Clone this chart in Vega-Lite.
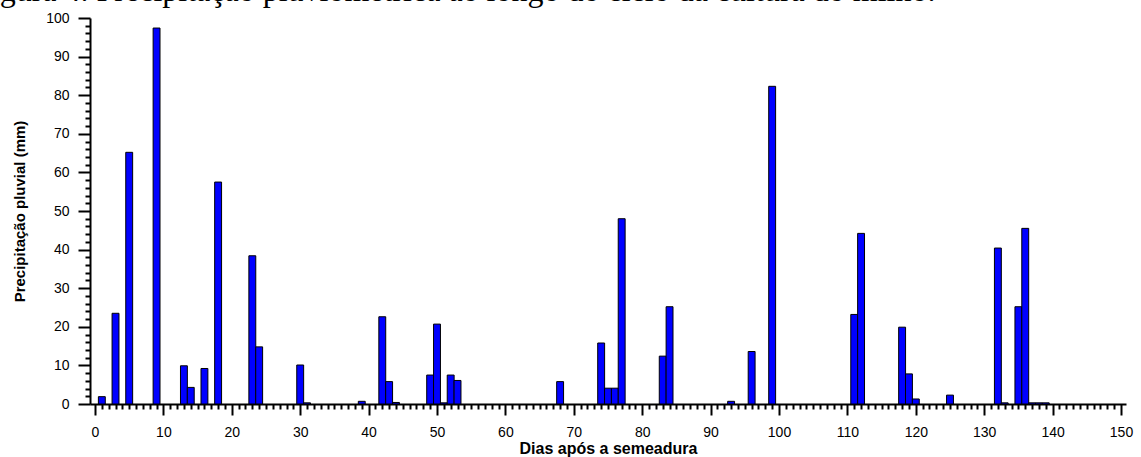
{
  "$schema": "https://vega.github.io/schema/vega-lite/v6.json",
  "width": 1036,
  "height": 386,
  "autosize": {"type": "none"},
  "padding": {"left": 90, "top": 18, "right": 15, "bottom": 53},
  "background": "white",
  "title": {
    "text": "Figura 4. Precipitação pluviométrica ao longo do ciclo da cultura do milho.",
    "anchor": "start",
    "frame": "group",
    "font": "Liberation Serif",
    "fontSize": 32,
    "fontWeight": "normal",
    "color": "black",
    "baseline": "alphabetic",
    "offset": 0,
    "dx": -117,
    "dy": 22
  },
  "data": {
    "values": [
      {"dia": 1, "precip": 1.9},
      {"dia": 3, "precip": 23.5},
      {"dia": 5, "precip": 65.2},
      {"dia": 9, "precip": 97.4},
      {"dia": 13, "precip": 9.9},
      {"dia": 14, "precip": 4.3},
      {"dia": 16, "precip": 9.2},
      {"dia": 18, "precip": 57.5},
      {"dia": 23, "precip": 38.4},
      {"dia": 24, "precip": 14.8},
      {"dia": 30, "precip": 10.1},
      {"dia": 31, "precip": 0.3},
      {"dia": 39, "precip": 0.7},
      {"dia": 42, "precip": 22.6},
      {"dia": 43, "precip": 5.8},
      {"dia": 44, "precip": 0.4},
      {"dia": 49, "precip": 7.5},
      {"dia": 50, "precip": 20.7},
      {"dia": 51, "precip": 0.3},
      {"dia": 52, "precip": 7.5},
      {"dia": 53, "precip": 6.1},
      {"dia": 68, "precip": 5.8},
      {"dia": 74, "precip": 15.8},
      {"dia": 75, "precip": 4.1},
      {"dia": 76, "precip": 4.1},
      {"dia": 77, "precip": 48.0},
      {"dia": 83, "precip": 12.4},
      {"dia": 84, "precip": 25.2},
      {"dia": 93, "precip": 0.7},
      {"dia": 96, "precip": 13.6},
      {"dia": 99, "precip": 82.3},
      {"dia": 111, "precip": 23.2},
      {"dia": 112, "precip": 44.2},
      {"dia": 118, "precip": 19.9},
      {"dia": 119, "precip": 7.8},
      {"dia": 120, "precip": 1.3},
      {"dia": 125, "precip": 2.3},
      {"dia": 132, "precip": 40.4},
      {"dia": 133, "precip": 0.3},
      {"dia": 135, "precip": 25.2},
      {"dia": 136, "precip": 45.5},
      {"dia": 137, "precip": 0.3},
      {"dia": 138, "precip": 0.3},
      {"dia": 139, "precip": 0.3}
    ]
  },
  "mark": {"type": "bar", "width": 6.9, "fill": "#0000ff", "stroke": "black", "strokeWidth": 1},
  "encoding": {
    "x": {
      "field": "dia",
      "type": "quantitative",
      "scale": {"domain": [0, 150], "nice": false, "zero": false},
      "axis": {
        "values": [0,1,2,3,4,5,6,7,8,9,10,11,12,13,14,15,16,17,18,19,20,21,22,23,24,25,26,27,28,29,30,31,32,33,34,35,36,37,38,39,40,41,42,43,44,45,46,47,48,49,50,51,52,53,54,55,56,57,58,59,60,61,62,63,64,65,66,67,68,69,70,71,72,73,74,75,76,77,78,79,80,81,82,83,84,85,86,87,88,89,90,91,92,93,94,95,96,97,98,99,100,101,102,103,104,105,106,107,108,109,110,111,112,113,114,115,116,117,118,119,120,121,122,123,124,125,126,127,128,129,130,131,132,133,134,135,136,137,138,139,140,141,142,143,144,145,146,147,148,149,150],
        "labelExpr": "datum.value % 10 === 0 ? datum.label : ''",
        "tickSize": {"condition": {"test": "datum.value % 10 === 0", "value": 11}, "value": 5},
        "tickWidth": 2,
        "tickColor": "black",
        "domainWidth": 2,
        "domainColor": "black",
        "labelFont": "Liberation Sans",
        "labelFontSize": 14,
        "labelColor": "black",
        "labelPadding": 10,
        "labelOverlap": false,
        "labelFlush": false,
        "grid": false,
        "title": "Dias após a semeadura",
        "titleFont": "Liberation Sans",
        "titleFontSize": 16,
        "titleFontWeight": "bold",
        "titleColor": "black",
        "titlePadding": 1
      }
    },
    "y": {
      "field": "precip",
      "type": "quantitative",
      "scale": {"domain": [0, 100], "nice": false},
      "axis": {
        "values": [0,2,4,6,8,10,12,14,16,18,20,22,24,26,28,30,32,34,36,38,40,42,44,46,48,50,52,54,56,58,60,62,64,66,68,70,72,74,76,78,80,82,84,86,88,90,92,94,96,98,100],
        "labelExpr": "datum.value % 10 === 0 ? datum.label : ''",
        "tickSize": {"condition": {"test": "datum.value % 10 === 0", "value": 12}, "value": 5},
        "tickWidth": 2,
        "tickColor": "black",
        "domainWidth": 2,
        "domainColor": "black",
        "labelFont": "Liberation Sans",
        "labelFontSize": 14,
        "labelColor": "black",
        "labelPadding": 9,
        "labelOverlap": false,
        "labelFlush": false,
        "grid": false,
        "title": "Precipitação pluvial (mm)",
        "titleFont": "Liberation Sans",
        "titleFontSize": 15,
        "titleFontWeight": "bold",
        "titleColor": "black",
        "titlePadding": 18
      }
    }
  },
  "config": {"view": {"stroke": null}}
}
